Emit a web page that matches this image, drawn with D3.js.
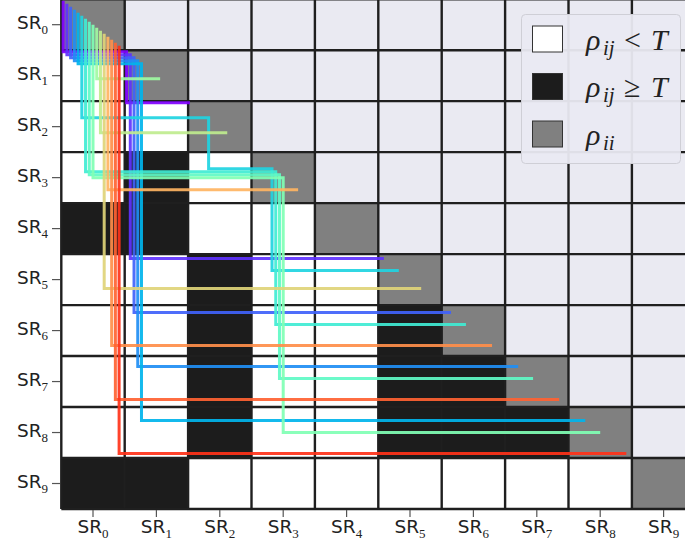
<!DOCTYPE html>
<html><head><meta charset="utf-8">
<script src="https://cdn.jsdelivr.net/npm/d3@7"></script>
<style>html,body{margin:0;padding:0;background:#fff;overflow:hidden}</style>
</head><body>
<svg id="chart" width="685" height="546"></svg>
<script>
// ---------- data ----------
const labelIdx = ["0","1","2","3","4","5","6","7","8","9"];
const labelPrefix = "SR";
// lower-triangle threshold result: 1 = rho_ij >= T, 0 = rho_ij < T
const aboveT = [
  [],
  [0],
  [0,0],
  [0,1,0],
  [1,1,0,0],
  [0,0,1,0,0],
  [0,0,1,0,0,1],
  [0,0,1,0,0,1,1],
  [0,0,1,0,0,1,1,1],
  [1,1,0,0,0,0,0,0,0]
];
// chains traced as staircase paths
const chains = [
  [0,1,2],[0,1,5],[0,1,6],[0,1,7],[0,1,8],
  [0,2,3,5],[0,3,6],[0,3,7],[0,3,8],
  [0,1],[0,2],[0,5],[0,3],[0,6],[0,7],[0,8]
];
const legendLabels = [
  {rho:"ρ", sub:"ij", rel:"<", rhs:"T"},
  {rho:"ρ", sub:"ij", rel:"≥", rhs:"T"},
  {rho:"ρ", sub:"ii", rel:"", rhs:""}
];

// ---------- drawing ----------
const svg = d3.select("#chart");
const n = labelIdx.length;
const x = d3.scaleBand().domain(d3.range(n)).range([61.3, 695.3]).paddingInner(0).paddingOuter(0);
const y = d3.scaleBand().domain(d3.range(n)).range([-0.8, 509.0]).paddingInner(0).paddingOuter(0);
const W = x.bandwidth(), H = y.bandwidth();

const colWhite = "#ffffff", colBlack = "#1c1c1c", colGrey = "#808080", colUpper = "#eaeaf2";
const cells = [];
for (let i = 0; i < n; i++) for (let j = 0; j < n; j++) {
  let c;
  if (j === i) c = colGrey;
  else if (j > i) c = colUpper;
  else c = aboveT[i][j] ? colBlack : colWhite;
  cells.push({i, j, c});
}
svg.append("g").selectAll("rect").data(cells).join("rect")
  .attr("x", d => x(d.j)).attr("y", d => y(d.i))
  .attr("width", W).attr("height", H)
  .attr("fill", d => d.c);

// grid lines
const grid = svg.append("g").attr("stroke", "#1f1f1f").attr("stroke-width", 2.4);
for (let k = 0; k <= n; k++) {
  const xv = x.range()[0] + k * W, yv = y.range()[0] + k * H;
  grid.append("line").attr("x1", xv).attr("x2", xv).attr("y1", y.range()[0]).attr("y2", y.range()[1]);
  grid.append("line").attr("y1", yv).attr("y2", yv).attr("x1", x.range()[0]).attr("x2", x.range()[1]);
}

// matplotlib "rainbow" colormap
function rainbow(t) {
  const r = Math.min(1, Math.abs(2 * t - 0.5));
  const g = Math.sin(Math.PI * t);
  const b = Math.cos(Math.PI * t / 2);
  return d3.rgb(r * 255, g * 255, b * 255).formatHex();
}
const nSlots = chains.length + 1;
const lineG = svg.append("g");
chains.forEach((ch, k) => {
  const f = (k + 0.5) / nSlots;
  const px = c => x(c) + f * W, py = r => y(r) + f * H;
  const pts = [[px(ch[0]), py(ch[0])]];
  for (let s = 1; s < ch.length; s++) {
    pts.push([px(ch[s - 1]), py(ch[s])]);
    pts.push([px(ch[s]), py(ch[s])]);
  }
  lineG.append("path")
    .attr("d", d3.line()(pts))
    .attr("fill", "none")
    .attr("stroke", rainbow(k / 16))
    .attr("stroke-opacity", 0.92)
    .attr("stroke-width", 3)
    .attr("stroke-linejoin", "miter");
});

// axes ticks & labels
const tickCol = "#555555";
const axG = svg.append("g");
d3.range(n).forEach(i => {
  const cy = y(i) + H / 2;
  axG.append("line").attr("x1", 52).attr("x2", 60).attr("y1", cy).attr("y2", cy)
    .attr("stroke", tickCol).attr("stroke-width", 1.2);
  const t = axG.append("text").attr("x", 48).attr("y", cy + 4.6)
    .attr("text-anchor", "end").attr("font-family", "DejaVu Sans").attr("font-size", 18.5).attr("fill", "#222");
  t.append("tspan").text(labelPrefix);
  t.append("tspan").attr("dy", 4.5).attr("font-family", "Liberation Serif").attr("font-size", 13).text(labelIdx[i]);

  const cx = x(i) + W / 2;
  axG.append("line").attr("x1", cx).attr("x2", cx).attr("y1", 510).attr("y2", 517)
    .attr("stroke", tickCol).attr("stroke-width", 1.2);
  const tx = axG.append("text").attr("x", cx).attr("y", 533)
    .attr("text-anchor", "middle").attr("font-family", "DejaVu Sans").attr("font-size", 18.5).attr("fill", "#222");
  tx.append("tspan").text(labelPrefix);
  tx.append("tspan").attr("dy", 4.5).attr("font-family", "Liberation Serif").attr("font-size", 13).text(labelIdx[i]);
});

// legend
const lg = svg.append("g");
lg.append("rect").attr("x", 521.5).attr("y", 14.5).attr("width", 159).attr("height", 149).attr("rx", 4)
  .attr("fill", "#eaeaf2").attr("fill-opacity", 0.95).attr("stroke", "#cfcfd6").attr("stroke-width", 1);
const legFills = [colWhite, colBlack, colGrey];
legendLabels.forEach((L, k) => {
  const cy = 39 + k * 47.5;
  lg.append("rect").attr("x", 532.5).attr("y", cy - 13).attr("width", 30).attr("height", 26)
    .attr("fill", legFills[k]).attr("stroke", "#333").attr("stroke-width", 1);
  const base = cy + 10.5;
  const fam = "Liberation Serif";
  lg.append("text").attr("x", 586).attr("y", base).attr("font-family", fam).attr("font-style", "italic")
    .attr("font-size", 30).attr("fill", "#222").text(L.rho);
  lg.append("text").attr("x", 603).attr("y", base + 5).attr("font-family", fam).attr("font-style", "italic")
    .attr("font-size", 21).attr("fill", "#222").text(L.sub);
  if (L.rel) lg.append("text").attr("x", 624).attr("y", base).attr("font-family", fam)
    .attr("font-size", 30).attr("fill", "#222").text(L.rel);
  if (L.rhs) lg.append("text").attr("x", 651).attr("y", base).attr("font-family", fam).attr("font-style", "italic")
    .attr("font-size", 30).attr("fill", "#222").text(L.rhs);
});
</script>
</body></html>
